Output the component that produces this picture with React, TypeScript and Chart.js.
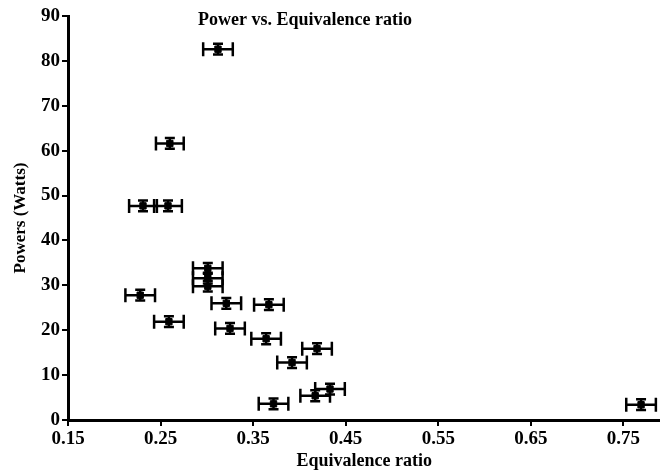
import React, { useEffect, useRef } from "react";
import { Chart, registerables } from "chart.js";

Chart.register(...registerables);

const equivRatio = [0.312, 0.26, 0.231, 0.258, 0.301, 0.301, 0.301, 0.228, 0.321, 0.367, 0.259, 0.325, 0.364, 0.392, 0.419, 0.372, 0.417, 0.433, 0.769];
const powerWatts = [82.6, 61.6, 47.7, 47.7, 33.8, 31.6, 29.8, 27.8, 26.0, 25.7, 21.9, 20.4, 18.1, 12.8, 15.9, 3.6, 5.4, 6.9, 3.4];
const equivErr = [0.016, 0.015, 0.015, 0.015, 0.016, 0.016, 0.016, 0.016, 0.016, 0.016, 0.016, 0.016, 0.016, 0.016, 0.016, 0.016, 0.016, 0.016, 0.016];
const powerErr = [1.2, 1.2, 1.2, 1.2, 1.2, 1.2, 1.2, 1.2, 1.2, 1.2, 1.2, 1.2, 1.2, 1.2, 1.2, 1.2, 1.2, 1.2, 1.2];
const xTickValues = [0.15, 0.25, 0.35, 0.45, 0.55, 0.65, 0.75];
const chartTitle = "Power vs. Equivalence ratio";
const xTitle = "Equivalence ratio";
const yTitle = "Powers (Watts)";

const FONT = "'Liberation Serif', 'Times New Roman', serif";

const errorBarPlugin = {
  id: "errorBars",
  beforeDatasetsDraw(chart: any) {
    const ctx = chart.ctx;
    const xs = chart.scales.x;
    const ys = chart.scales.y;
    ctx.save();
    ctx.strokeStyle = "#000";
    ctx.lineWidth = 2.5;
    for (let i = 0; i < equivRatio.length; i++) {
      const cx = xs.getPixelForValue(equivRatio[i]);
      const cy = ys.getPixelForValue(powerWatts[i]);
      const x1 = xs.getPixelForValue(equivRatio[i] - equivErr[i]);
      const x2 = xs.getPixelForValue(equivRatio[i] + equivErr[i]);
      const y1 = ys.getPixelForValue(powerWatts[i] - powerErr[i]);
      const y2 = ys.getPixelForValue(powerWatts[i] + powerErr[i]);
      ctx.beginPath();
      ctx.moveTo(x1, cy); ctx.lineTo(x2, cy);
      ctx.moveTo(x1, cy - 7); ctx.lineTo(x1, cy + 7);
      ctx.moveTo(x2, cy - 7); ctx.lineTo(x2, cy + 7);
      ctx.moveTo(cx, y1); ctx.lineTo(cx, y2);
      ctx.moveTo(cx - 5, y1); ctx.lineTo(cx + 5, y1);
      ctx.moveTo(cx - 5, y2); ctx.lineTo(cx + 5, y2);
      ctx.stroke();
    }
    ctx.restore();
  },
  afterDraw(chart: any) {
    const ctx = chart.ctx;
    ctx.save();
    ctx.fillStyle = "#000";
    ctx.font = `bold 18px ${FONT}`;
    ctx.textBaseline = "middle";
    ctx.textAlign = "left";
    ctx.fillText(chartTitle, chart.chartArea.left + 130, chart.chartArea.top + 4);
    ctx.restore();
  },
};

export default function App() {
  const ref = useRef<HTMLCanvasElement | null>(null);
  useEffect(() => {
    if (!ref.current) return;
    const data = equivRatio.map((x, i) => ({ x, y: powerWatts[i] }));
    const chart = new Chart(ref.current, {
      type: "scatter",
      data: {
        datasets: [
          {
            data,
            pointStyle: "rect",
            pointRadius: 4.5,
            backgroundColor: "#000",
            borderColor: "#000",
            borderWidth: 1,
          },
        ],
      },
      options: {
        animation: false,
        responsive: true,
        maintainAspectRatio: false,
        clip: false as any,
        layout: { padding: { top: 16, right: 0, left: 0, bottom: 0 } },
        plugins: { legend: { display: false }, tooltip: { enabled: false }, title: { display: false } },
        scales: {
          x: {
            type: "linear",
            min: 0.15,
            max: 0.79,
            afterBuildTicks: (scale: any) => {
              scale.ticks = xTickValues.map((v) => ({ value: v }));
            },
            afterFit: (scale: any) => {
              scale.height = 52;
            },
            ticks: {
              color: "#000",
              font: { family: FONT, size: 19, weight: "bold" },
              padding: 2,
              maxRotation: 0,
              autoSkip: false,
              callback: (v: any) => Number(v).toFixed(2),
            },
            border: { display: true, color: "#000", width: 3 },
            grid: { drawOnChartArea: false, drawTicks: true, tickLength: 6, color: "#000", lineWidth: 2 },
            title: { display: true, text: xTitle, color: "#000", font: { family: FONT, size: 18, weight: "bold" }, padding: { top: 0, bottom: 0 } },
          },
          y: {
            type: "linear",
            min: 0,
            max: 90,
            afterFit: (scale: any) => {
              scale.width = 68;
            },
            ticks: {
              stepSize: 10,
              color: "#000",
              font: { family: FONT, size: 19, weight: "bold" },
              padding: 2,
            },
            border: { display: true, color: "#000", width: 3 },
            grid: { drawOnChartArea: false, drawTicks: true, tickLength: 6, color: "#000", lineWidth: 2 },
            title: { display: true, text: yTitle, color: "#000", font: { family: FONT, size: 17, weight: "bold" }, padding: { top: 10, bottom: 4 } },
          },
        },
      },
      plugins: [errorBarPlugin],
    });
    return () => chart.destroy();
  }, []);
  return (
    <div style={{ position: "absolute", left: 0, top: 0, width: 660, height: 472, overflow: "hidden" }}>
      <div style={{ position: "relative", width: 666, height: 472 }}>
        <canvas ref={ref} />
      </div>
    </div>
  );
}
